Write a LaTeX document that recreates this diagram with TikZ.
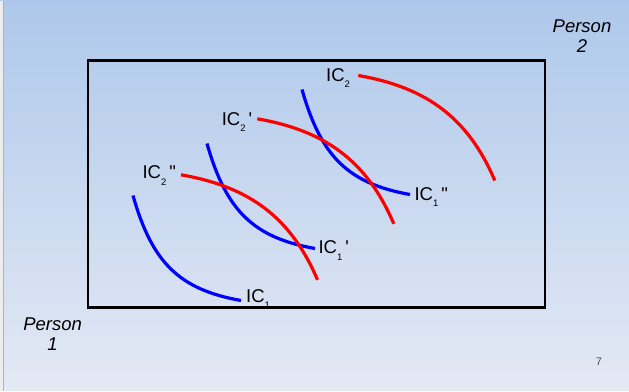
\documentclass[tikz,border=0pt]{standalone}
\usepackage{fontspec}
\setmainfont{Liberation Sans}
\usepackage{xcolor}
\usetikzlibrary{positioning}

\definecolor{slidetop}{RGB}{174,200,235}
\definecolor{slidemiddle}{RGB}{210,221,240}
\definecolor{slidebottom}{RGB}{228,233,244}

\newcommand{\lowsub}[1]{\raisebox{-6.3pt}{\fontsize{9.5}{9.5}\selectfont #1}}

\begin{document}
\begin{tikzpicture}[
        x=1pt, y=-1pt,
        bluecurve/.style={
            blue,
            line width=3.2pt
        },
        redcurve/.style={
            red,
            line width=3.2pt
        },
        iclabel/.style={
            inner sep=0pt,
            anchor=base west,
            font=\fontsize{18.5}{20}\selectfont
        },
        person/.style={
            inner sep=0pt,
            align=center,
            anchor=base,
            font=\fontsize{18.5}{20.5}\selectfont\itshape
        }
    ]

    % slide background
    \shade[top color=slidetop, middle color=slidemiddle, bottom color=slidebottom] (0,0) rectangle (629,390);
    \fill[white!93!black] (0,0) rectangle (3,390);
    \draw[black!30, line width=1pt] (3.5,0) -- (3.5,390);
    \useasboundingbox (0,0) rectangle (629,390);

    \draw[line width=2.3pt] (88,60) rectangle (545,307);

    \node[person] (person2) at (582,52) {Person\\2};
    \node[person] (person1) at (52.6,350) {Person\\1};

    % person 1
    \coordinate (ica) at (133,195);
    \coordinate (icb) at (207,143);
    \coordinate (icc) at (302,89);

    \draw[bluecurve] (ica) .. controls +(19,67) and +(-62,-11) .. +(108,105);
    \draw[bluecurve] (icb) .. controls +(19,67) and +(-62,-11) .. +(108,105);
    \draw[bluecurve] (icc) .. controls +(19,67) and +(-62,-11) .. +(108,105);

    % person 2
    \coordinate (icd) at (181,174.3);
    \coordinate (ice) at (257.3,118.3);
    \coordinate (icf) at (358.3,75);

    \draw[redcurve] (icd) .. controls +(69,12) and +(-26.5,-62) .. +(136.5,105);
    \draw[redcurve] (ice) .. controls +(69,12) and +(-26.5,-62) .. +(136.5,105);
    \draw[redcurve] (icf) .. controls +(69,12) and +(-26.5,-62) .. +(136.5,105);

    \node[iclabel] (labela) at (246,301.7) {IC\lowsub{1}};
    \node[iclabel] (labelb) at (318.3,253.3) {IC\lowsub{1}\hspace{3pt}\textquotesingle};
    \node[iclabel] (labelc) at (414.3,199.7) {IC\lowsub{1}\hspace{3pt}\textquotedbl};
    \node[iclabel] (labeld) at (142.3,178.3) {IC\lowsub{2}\hspace{3pt}\textquotedbl};
    \node[iclabel] (labele) at (221.6,125) {IC\lowsub{2}\hspace{3pt}\textquotesingle};
    \node[iclabel] (labelf) at (326,80.7) {IC\lowsub{2}};

    \node[anchor=base, inner sep=0pt, text=black!70, font=\fontsize{11}{11}\selectfont] (pagenum) at (599,365) {7};

\end{tikzpicture}
\end{document}
